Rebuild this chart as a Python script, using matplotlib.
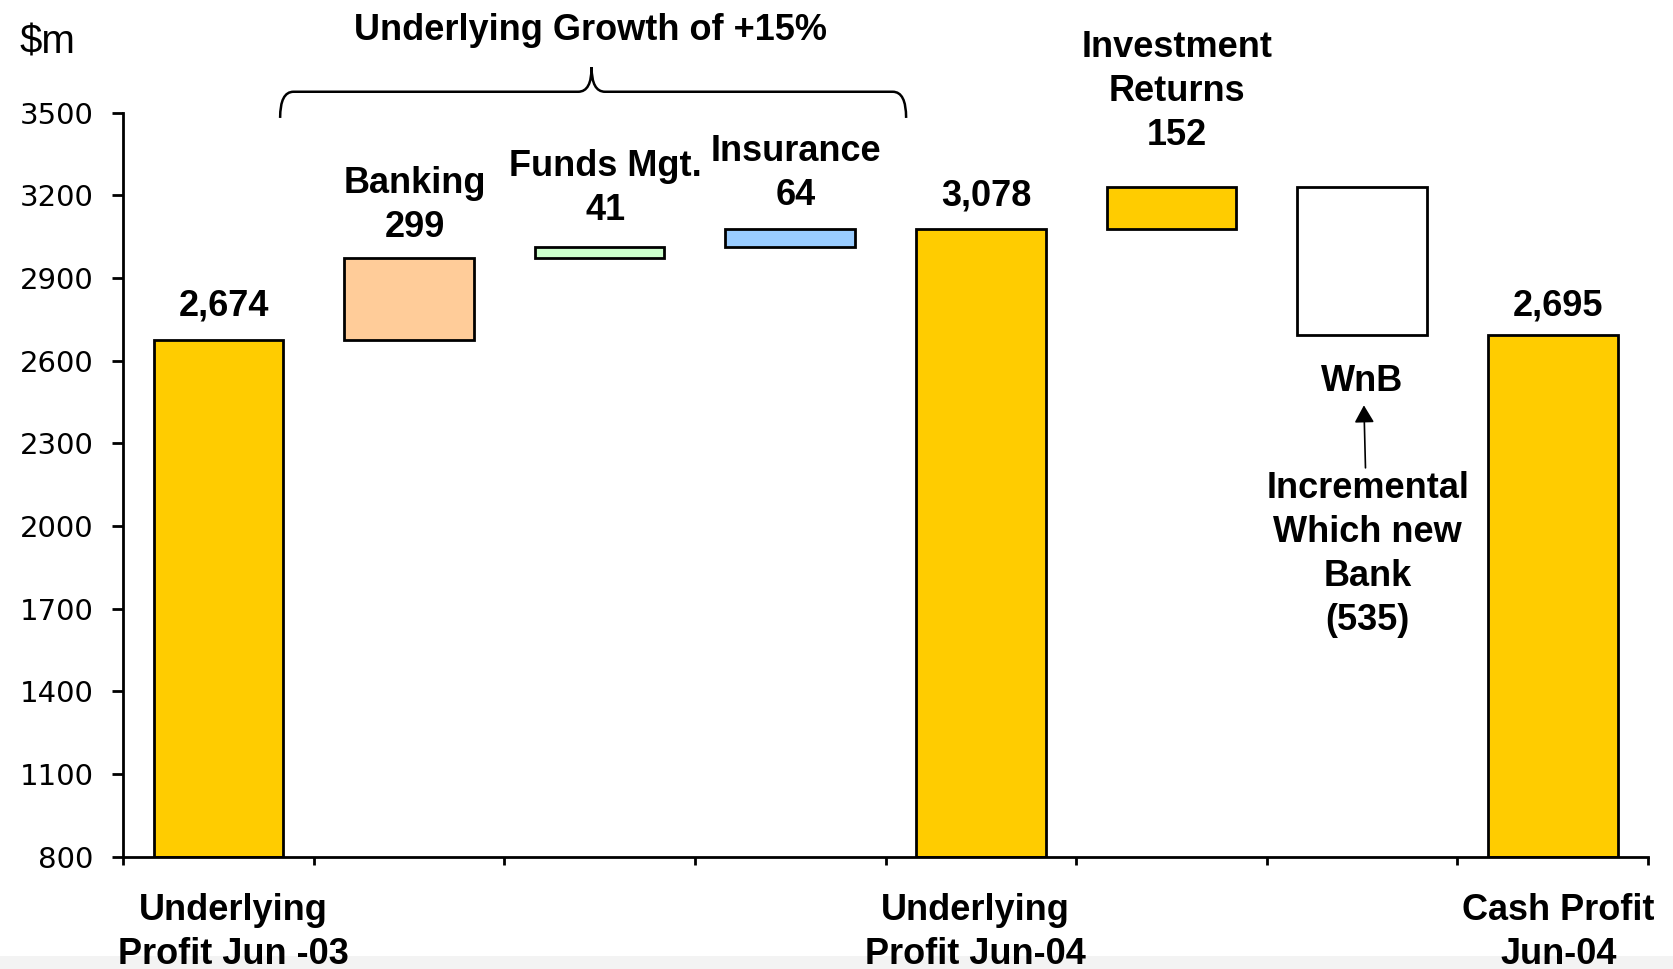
"""
Waterfall: Underlying profit Jun-03 to Cash profit Jun-04 ($m)
"""
import matplotlib
matplotlib.use('Agg')
import matplotlib.pyplot as plt
from matplotlib.path import Path
from matplotlib.patches import PathPatch, Rectangle

# ---- data ----
steps = ['Underlying Profit Jun -03', 'Banking', 'Funds Mgt.', 'Insurance',
         'Underlying Profit Jun-04', 'Investment Returns', 'WnB', 'Cash Profit Jun-04']
changes = [2674, 299, 41, 64, 3078, 152, -535, 2695]
is_total = [True, False, False, False, True, False, False, True]
bar_labels = ['2,674', 'Banking\n299', 'Funds Mgt.\n41', 'Insurance\n64',
              '3,078', 'Investment\nReturns\n152', '', '2,695']
bar_colors = ['#FFCC00', '#FFCC99', '#CCFFCC', '#99CCFF',
              '#FFCC00', '#FFCC00', '#FFFFFF', '#FFCC00']
label_gap = [18, 15, 19, 17, 17, 30, 0, 14]   # points between box top and label

cat_ticks = [0.08, 3.97, 7.03]
cat_labels = ['Underlying\nProfit Jun -03', 'Underlying\nProfit Jun-04', 'Cash Profit\nJun-04']
yticks = [800, 1100, 1400, 1700, 2000, 2300, 2600, 2900, 3200, 3500]

BOLD = {'family': ['Liberation Sans', 'DejaVu Sans'], 'weight': 'bold', 'size': 26}
LS = 1.34

# running totals -> bottoms / heights
bottoms, heights = [], []
level = 0
for ch, tot in zip(changes, is_total):
    if tot:
        bottoms.append(800)
        heights.append(ch - 800)
        level = ch
    else:
        lo = min(level, level + ch)
        bottoms.append(lo)
        heights.append(abs(ch))
        level += ch

fig = plt.figure(figsize=(16.74, 9.69), dpi=100)
ax = fig.add_axes([0.0735, 0.1159, 0.911, 0.7678])

x = list(range(len(steps)))
ax.bar(x, heights, bottom=bottoms, width=0.68, color=bar_colors,
       edgecolor='black', linewidth=2)

ax.set_xlim(-0.5, len(steps) - 0.5)
ax.set_ylim(800, 3500)

# value labels above boxes
for i in x:
    if not bar_labels[i]:
        continue
    top = bottoms[i] + heights[i]
    ax.annotate(bar_labels[i], xy=(i, top), xytext=(4, label_gap[i]),
                textcoords='offset points', ha='center', va='baseline',
                linespacing=LS, annotation_clip=False, **BOLD)

# WnB note below the white box, with arrow from the explanation
wnb = steps.index('WnB')
ax.annotate('WnB', xy=(wnb, bottoms[wnb]), xytext=(0, -21),
            textcoords='offset points', ha='center', va='top', **BOLD)
ax.annotate('Incremental\nWhich new\nBank\n(535)', xy=(wnb, bottoms[wnb]),
            xytext=(4, -98), textcoords='offset points', ha='center', va='top',
            linespacing=LS,
            arrowprops=dict(arrowstyle='-|>,head_length=0.35,head_width=0.2',
                            color='black', lw=1.2, mutation_scale=30,
                            shrinkA=0, shrinkB=51), **BOLD)

# brace over the business-unit steps
x0, x1, xc = 0.324, 3.608, 1.958
y_end, y_line, y_tip = 3481, 3576, 3665
dx = 0.07
verts = [(x0, y_end), (x0, y_line), (x0 + dx, y_line),
         (xc - dx, y_line), (xc, y_line), (xc, y_tip),
         (xc, y_line), (xc + dx, y_line),
         (x1 - dx, y_line), (x1, y_line), (x1, y_end)]
codes = [Path.MOVETO, Path.CURVE3, Path.CURVE3,
         Path.LINETO, Path.CURVE3, Path.CURVE3,
         Path.CURVE3, Path.CURVE3,
         Path.LINETO, Path.CURVE3, Path.CURVE3]
ax.add_patch(PathPatch(Path(verts, codes), fill=False, lw=1.8,
                       edgecolor='black', clip_on=False))
ax.text(1.95, 3762, 'Underlying Growth of +15%', ha='center', va='baseline',
        clip_on=False, **BOLD)

# axes styling
for s in ['top', 'right']:
    ax.spines[s].set_visible(False)
for s in ['left', 'bottom']:
    ax.spines[s].set_linewidth(2)

ax.set_yticks(yticks)
ax.set_yticklabels([str(v) for v in yticks], family='DejaVu Sans', fontsize=21)
ax.tick_params(axis='y', direction='out', length=8, width=2, pad=13)

ax.set_xticks([i - 0.5 for i in range(len(steps) + 1)])
ax.set_xticklabels([])
ax.tick_params(axis='x', which='major', direction='out', length=6, width=2)
ax.set_xticks(cat_ticks, minor=True)
ax.set_xticklabels(cat_labels, minor=True, **BOLD)
ax.tick_params(axis='x', which='minor', length=0, pad=26)
for lab in ax.get_xticklabels(minor=True):
    lab.set_linespacing(LS)

fig.text(47 / 1674, 1 - 42 / 969, '$m', ha='center', va='center',
         family='Liberation Sans', fontsize=29)

# faint grey strip along the bottom edge of the original screenshot
fig.patches.append(Rectangle((0, 0), 1, 13 / 969, transform=fig.transFigure,
                             facecolor='#F3F3F3', edgecolor='none', zorder=-1))

fig.savefig('out.png', dpi=100, facecolor='white')
